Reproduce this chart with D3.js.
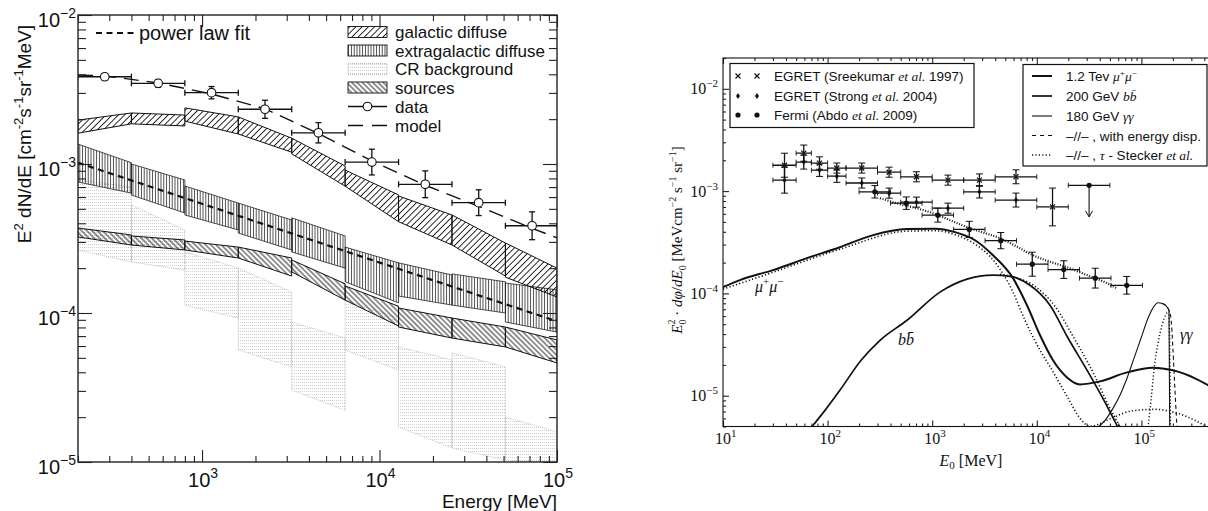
<!DOCTYPE html>
<html>
<head>
<meta charset="utf-8">
<script src="https://cdnjs.cloudflare.com/ajax/libs/d3/7.8.5/d3.min.js"></script>
<style>
  body { margin: 0; background: #fff; }
  svg { display: block; }
</style>
</head>
<body>
<svg id="chart" width="1208" height="511"></svg>
<script>
// ---------------- left panel data (E in MeV, E^2 dN/dE) ----------------
const binEdges = [200, 400, 800, 1600, 3200, 6400, 12800, 25600, 51200, 100000];
// rows: [upper at bin start, upper at bin end, lower at bin start, lower at bin end]
const galactic = [
  [1.97e-3, 2.20e-3, 1.61e-3, 1.86e-3],
  [2.20e-3, 2.13e-3, 1.86e-3, 1.80e-3],
  [2.38e-3, 2.07e-3, 1.94e-3, 1.59e-3],
  [2.07e-3, 1.49e-3, 1.59e-3, 1.20e-3],
  [1.49e-3, 9.7e-4, 1.17e-3, 7.1e-4],
  [9.1e-4, 6.2e-4, 7.1e-4, 4.1e-4],
  [6.1e-4, 4.55e-4, 4.1e-4, 2.86e-4],
  [4.55e-4, 2.95e-4, 2.86e-4, 1.77e-4],
  [2.95e-4, 2.0e-4, 1.74e-4, 1.28e-4]
];
const extragalactic = [
  [1.36e-3, 1.02e-3, 7.57e-4, 6.38e-4],
  [1.0e-3, 7.81e-4, 6.19e-4, 4.69e-4],
  [7.12e-4, 5.47e-4, 4.55e-4, 3.61e-4],
  [5.47e-4, 4.21e-4, 3.44e-4, 2.65e-4],
  [4.35e-4, 3.29e-4, 2.57e-4, 2.0e-4],
  [2.77e-4, 2.17e-4, 1.62e-4, 1.17e-4],
  [2.17e-4, 1.80e-4, 1.30e-4, 1.13e-4],
  [1.83e-4, 1.62e-4, 1.13e-4, 1.0e-4],
  [1.59e-4, 1.43e-4, 8.7e-5, 7.45e-5]
];
const crBackground = [
  [7.81e-4, 7.01e-4, 2.65e-4, 2.20e-4],
  [5.31e-4, 3.61e-4, 2.20e-4, 1.94e-4],
  [2.57e-4, 2.0e-4, 1.13e-4, 9.25e-5],
  [2.0e-4, 1.38e-4, 5.65e-5, 4.35e-5],
  [8.7e-5, 6.79e-5, 3.04e-5, 2.23e-5],
  [1.22e-4, 9.25e-5, 5.65e-5, 4.14e-5],
  [5.92e-5, 4.84e-5, 1.72e-5, 1.24e-5],
  [5.39e-5, 4.35e-5, 1.24e-5, 1.03e-5],
  [2.0e-5, 1.59e-5, 1.03e-5, 1.0e-5]
];
const sources = [
  [3.72e-4, 3.34e-4, 3.24e-4, 2.86e-4],
  [3.29e-4, 3.09e-4, 2.86e-4, 2.65e-4],
  [3.04e-4, 2.77e-4, 2.65e-4, 2.34e-4],
  [2.77e-4, 2.34e-4, 2.34e-4, 1.77e-4],
  [2.27e-4, 1.57e-4, 1.89e-4, 1.22e-4],
  [1.52e-4, 1.11e-4, 1.22e-4, 8.18e-5],
  [1.08e-4, 9.25e-5, 8.05e-5, 6.79e-5],
  [9.25e-5, 8.05e-5, 6.79e-5, 5.92e-5],
  [8.05e-5, 6.59e-5, 5.92e-5, 4.62e-5]
];
const dataE = [283, 566, 1131, 2263, 4525, 9051, 18102, 36204, 72408];
const dataF = [3.85e-3, 3.48e-3, 3.01e-3, 2.33e-3, 1.62e-3, 1.03e-3, 7.31e-4, 5.50e-4, 3.85e-4];
const dataErr = [0.05, 0.06, 0.1, 0.15, 0.17, 0.22, 0.23, 0.22, 0.24];
const modelE = [200, 283, 566, 1131, 2263, 4525, 9051, 18102, 36204, 72408, 100000];
const modelF = [3.95e-3, 3.9e-3, 3.5e-3, 2.95e-3, 2.35e-3, 1.6e-3, 1.05e-3, 7.2e-4, 5.2e-4, 3.7e-4, 3.2e-4];
const powerE = [200, 100000];
const powerF = [1.02e-3, 8.8e-5];
const leftLegend = ["galactic diffuse", "extragalactic diffuse", "CR background", "sources", "data", "model"];

// ---------------- right panel data (E0 in MeV, MeV cm^-2 s^-1 sr^-1) ----------------
const egretEdges = [30, 50, 70, 100, 150, 300, 500, 1000, 2000, 4000, 10000, 20000];
const sreekumarF = [1.79e-3, 2.35e-3, 1.88e-3, 1.68e-3, 1.68e-3, 1.53e-3, 1.38e-3, 1.28e-3, 1.28e-3, 1.38e-3, 7.0e-4];
const sreekumarErr = [0.31, 0.2, 0.15, 0.12, 0.12, 0.12, 0.12, 0.12, 0.15, 0.17, 0.53];
const upperLimitEdges = [20000, 50000];
const upperLimitF = [1.14e-3, 5.6e-4];
const strongF = [1.28e-3, 1.92e-3, 1.60e-3, 1.40e-3, 1.20e-3, 9.55e-4, 7.80e-4, 6.81e-4, 9.84e-4, 8.17e-4];
const strongErr = [0.34, 0.17, 0.15, 0.15, 0.12, 0.12, 0.12, 0.12, 0.15, 0.17];
const fermiEdges = [200, 400, 800, 1600, 3200, 6400, 12800, 25600, 51200, 102400];
const fermiF = [9.84e-4, 7.62e-4, 5.82e-4, 4.22e-4, 3.28e-4, 1.93e-4, 1.71e-4, 1.41e-4, 1.20e-4];
const fermiErr = [0.15, 0.15, 0.17, 0.2, 0.2, 0.31, 0.22, 0.25, 0.22];

const mumuE = [10, 14.5, 30.1, 63.5, 131, 272, 574, 1064, 1652, 2566, 3811, 5920, 8054, 10740, 14290, 19440, 25890, 40190, 72800, 129000, 200400, 325000, 473000];
const mumuF = [1.15e-4, 1.35e-4, 1.69e-4, 2.21e-4, 2.83e-4, 3.71e-4, 4.25e-4, 4.29e-4, 3.97e-4, 3.31e-4, 2.36e-4, 1.41e-4, 7.66e-5, 3.90e-5, 2.22e-5, 1.51e-5, 1.29e-5, 1.38e-5, 1.69e-5, 1.88e-5, 1.77e-5, 1.48e-5, 1.21e-5];
const mumuDotE = [10, 30.1, 131, 574, 1064, 1652, 2566, 3981, 5920, 7710, 10740, 13680, 19440, 25890, 32300, 51200, 77800, 131800, 214000, 325000, 433000];
const mumuDotF = [1.10e-4, 1.61e-4, 2.70e-4, 4.06e-4, 4.10e-4, 3.75e-4, 3.03e-4, 2.02e-4, 1.03e-4, 5.46e-5, 2.78e-5, 1.85e-5, 9.86e-6, 6.01e-6, 5.01e-6, 6.0e-6, 7.04e-6, 7.36e-6, 6.80e-6, 5.74e-6, 4.9e-6];
const bbE = [70, 94.4, 131, 209, 317, 574, 1186, 2151, 3811, 5546, 8610, 13376, 19440, 32300, 44900, 59700];
const bbF = [4.9e-6, 7.19e-6, 1.13e-5, 2.22e-5, 3.48e-5, 5.46e-5, 1.03e-4, 1.38e-4, 1.51e-4, 1.47e-4, 1.20e-4, 7.66e-5, 3.81e-5, 1.58e-5, 8.61e-6, 4.9e-6];
const bbDotE = [4449, 6194, 9616, 14930, 22180, 35970, 47900, 62400];
const bbDotF = [1.54e-4, 1.44e-4, 1.17e-4, 7.48e-5, 3.81e-5, 1.55e-5, 8.23e-6, 5.0e-6];
const ggE = [38460, 44900, 53500, 62400, 72800, 84900, 99100, 115600, 131800, 144100, 160700, 183500, 186500];
const ggF = [4.9e-6, 5.74e-6, 7.52e-6, 1.01e-5, 1.48e-5, 2.32e-5, 3.64e-5, 5.71e-5, 7.48e-5, 8.11e-5, 7.93e-5, 6.84e-5, 4.9e-6];
const ggDashE = [157400, 179600, 191800, 200400, 209400, 218800];
const ggDashF = [8.02e-5, 7.16e-5, 5.71e-5, 2.78e-5, 1.13e-5, 4.9e-6];
const ggDotE = [115600, 123600, 131800, 144100, 157400, 171800, 183500, 189800];
const ggDotF = [4.9e-6, 9.0e-6, 1.77e-5, 3.25e-5, 4.88e-5, 6.25e-5, 6.68e-5, 4.9e-6];
const sumDotE = [317, 492, 764, 1018, 1480, 2151, 3199, 4449, 6467, 9204, 13376, 19440, 30200, 46900, 58400];
const sumDotF = [8.53e-4, 7.45e-4, 6.66e-4, 6.08e-4, 5.20e-4, 4.44e-4, 3.88e-4, 3.47e-4, 2.86e-4, 2.36e-4, 2.04e-4, 1.80e-4, 1.51e-4, 1.26e-4, 1.12e-4];

const SANS = "'Liberation Sans', Arial, Helvetica, sans-serif";
const SERIF = "'Liberation Serif', 'DejaVu Serif', 'Times New Roman', serif";
const CR_GRAY = "#b0b0b0";

const svg = d3.select("#chart");
const defs = svg.append("defs");

// hatch patterns
function hatch(id, angle, spacing, color, width) {
  const p = defs.append("pattern").attr("id", id)
    .attr("patternUnits", "userSpaceOnUse")
    .attr("width", spacing).attr("height", spacing)
    .attr("patternTransform", "rotate(" + angle + ")");
  p.append("line").attr("x1", spacing / 2).attr("x2", spacing / 2)
    .attr("y1", -1).attr("y2", spacing + 1)
    .attr("stroke", color).attr("stroke-width", width);
}
hatch("galHatch", 45, 4.4, "#111", 0.9);
hatch("srcHatch", -45, 3.7, "#111", 0.9);
hatch("egHatch", 0, 2.8, "#333", 0.85);
const crp = defs.append("pattern").attr("id", "crHatch")
  .attr("patternUnits", "userSpaceOnUse").attr("width", 2).attr("height", 3);
crp.append("rect").attr("x", 0).attr("y", 1).attr("width", 0.9).attr("height", 0.7).attr("fill", CR_GRAY);

// ---------------- left panel ----------------
const L = { left: 78, right: 557, top: 15, bottom: 462 };
const x1 = d3.scaleLog().domain([200, 1e5]).range([L.left, L.right]);
const y1 = d3.scaleLog().domain([1e-5, 1e-2]).range([L.bottom, L.top]);
const line1 = d3.line().x(d => x1(d[0])).y(d => y1(d[1]));

defs.append("clipPath").attr("id", "clipL").append("rect")
  .attr("x", L.left).attr("y", L.top).attr("width", L.right - L.left).attr("height", L.bottom - L.top);

const gl = svg.append("g").attr("font-family", SANS);
const plotL = gl.append("g").attr("clip-path", "url(#clipL)");

function band(rows, fill, stroke, width, dash) {
  plotL.append("g").selectAll("path").data(rows).join("path")
    .attr("d", (r, i) => line1([[binEdges[i], r[0]], [binEdges[i + 1], r[1]],
                                 [binEdges[i + 1], r[3]], [binEdges[i], r[2]]]) + "Z")
    .attr("fill", fill).attr("stroke", stroke)
    .attr("stroke-width", width).attr("stroke-dasharray", dash || null);
}
band(crBackground, "url(#crHatch)", CR_GRAY, 0.8, "1,1");
band(extragalactic, "url(#egHatch)", "#222", 0.8);
band(sources, "url(#srcHatch)", "#111", 1);
band(galactic, "url(#galHatch)", "#111", 1);

plotL.append("path").attr("d", line1(powerE.map((e, i) => [e, powerF[i]])))
  .attr("fill", "none").attr("stroke", "#111").attr("stroke-width", 2.2).attr("stroke-dasharray", "6,4.5");
plotL.append("path").attr("d", line1(modelE.map((e, i) => [e, modelF[i]])))
  .attr("fill", "none").attr("stroke", "#111").attr("stroke-width", 1.4).attr("stroke-dasharray", "15,8");

// data points with error bars
const dataG = plotL.append("g").attr("stroke", "#111").attr("stroke-width", 1.3);
dataF.forEach((f, i) => {
  const cx = x1(dataE[i]), cy = y1(f);
  const xa = x1(binEdges[i]), xb = x1(binEdges[i + 1]);
  const ya = y1(f * (1 + dataErr[i])), yb = y1(f / (1 + dataErr[i]));
  dataG.append("line").attr("x1", xa).attr("x2", xb).attr("y1", cy).attr("y2", cy);
  dataG.append("line").attr("x1", xa).attr("x2", xa).attr("y1", cy - 3).attr("y2", cy + 3);
  dataG.append("line").attr("x1", xb).attr("x2", xb).attr("y1", cy - 3).attr("y2", cy + 3);
  dataG.append("line").attr("x1", cx).attr("x2", cx).attr("y1", ya).attr("y2", yb);
  dataG.append("line").attr("x1", cx - 3).attr("x2", cx + 3).attr("y1", ya).attr("y2", ya);
  dataG.append("line").attr("x1", cx - 3).attr("x2", cx + 3).attr("y1", yb).attr("y2", yb);
  dataG.append("circle").attr("cx", cx).attr("cy", cy).attr("r", 4.3).attr("fill", "#fff").attr("stroke-width", 1.1);
});

// ticks on all four sides
function ticks(g, scale, orient, pos, values, len) {
  const ax = orient(scale).tickValues(values).tickSizeInner(-len).tickSizeOuter(0).tickFormat("");
  const a = g.append("g").attr("transform", pos).attr("color", "#222").call(ax);
  a.select(".domain").remove();
  a.selectAll("line").attr("stroke-width", 1.1);
}
const isMajor = v => Math.abs(Math.log10(v) - Math.round(Math.log10(v))) < 1e-6;
const xT1 = x1.ticks(), yT1 = y1.ticks();
ticks(gl, x1, d3.axisBottom, `translate(0,${L.bottom})`, xT1.filter(v => !isMajor(v)), 6);
ticks(gl, x1, d3.axisBottom, `translate(0,${L.bottom})`, xT1.filter(isMajor), 12);
ticks(gl, x1, d3.axisTop, `translate(0,${L.top})`, xT1.filter(v => !isMajor(v)), 6);
ticks(gl, x1, d3.axisTop, `translate(0,${L.top})`, xT1.filter(isMajor), 12);
ticks(gl, y1, d3.axisLeft, `translate(${L.left},0)`, yT1.filter(v => !isMajor(v)), 8);
ticks(gl, y1, d3.axisLeft, `translate(${L.left},0)`, yT1.filter(isMajor), 14);
ticks(gl, y1, d3.axisRight, `translate(${L.right},0)`, yT1.filter(v => !isMajor(v)), 8);
ticks(gl, y1, d3.axisRight, `translate(${L.right},0)`, yT1.filter(isMajor), 14);
gl.append("rect").attr("x", L.left).attr("y", L.top).attr("width", L.right - L.left).attr("height", L.bottom - L.top)
  .attr("fill", "none").attr("stroke", "#222").attr("stroke-width", 1.4);

function powLabel(g, x, y, exp, anchor, size, supSize, supDy, font) {
  const t = g.append("text").attr("x", x).attr("y", y).attr("text-anchor", anchor)
    .attr("font-size", size).attr("font-family", font).attr("fill", "#111");
  t.append("tspan").text("10");
  t.append("tspan").attr("font-size", supSize).attr("dy", -supDy).text(exp < 0 ? "\u2212" + (-exp) : String(exp));
  return t;
}
yT1.filter(isMajor).forEach(v => powLabel(gl, 76, y1(v) + 12, Math.round(Math.log10(v)), "end", 20, 14, 9, SANS));
xT1.filter(isMajor).forEach(v => powLabel(gl, x1(v) + 1, 487, Math.round(Math.log10(v)), "middle", 20, 14, 9, SANS));

gl.append("text").attr("x", L.right).attr("y", 508).attr("text-anchor", "end")
  .attr("font-size", 19).attr("fill", "#111").text("Energy [MeV]");

function richText(g, parts) {
  parts.forEach(p => {
    const s = g.append("tspan").text(p[0]);
    const o = p[1] || {};
    if (o.size) s.attr("font-size", o.size);
    if (o.dy) s.attr("dy", o.dy);
    if (o.dx) s.attr("dx", o.dx);
    if (o.italic) s.attr("font-style", "italic");
    if (o.font) s.attr("font-family", o.font);
  });
}
const ylab1 = gl.append("text").attr("transform", "translate(31,134) rotate(-90)")
  .attr("text-anchor", "middle").attr("font-size", 19).attr("fill", "#111");
richText(ylab1, [["E"], ["2", { size: 13, dy: -8 }], [" dN/dE [cm", { dy: 8 }], ["-2", { size: 13, dy: -8 }],
  ["s", { dy: 8 }], ["-1", { size: 13, dy: -8 }], ["sr", { dy: 8 }], ["-1", { size: 13, dy: -8 }], ["MeV]", { dy: 8 }]]);

// left legends
gl.append("line").attr("x1", 96).attr("x2", 134).attr("y1", 33).attr("y2", 33)
  .attr("stroke", "#111").attr("stroke-width", 2.2).attr("stroke-dasharray", "6,4.5");
gl.append("text").attr("x", 139).attr("y", 40).attr("font-size", 20).attr("fill", "#111").text("power law fit");

const legFills = ["url(#galHatch)", "url(#egHatch)", "url(#crHatch)", "url(#srcHatch)"];
const legRows = [32, 50.5, 69, 87.5, 106.5, 125.5];
leftLegend.forEach((name, i) => {
  const cy = legRows[i];
  if (i < 4) {
    gl.append("rect").attr("x", 348).attr("y", cy - 5.5).attr("width", 39).attr("height", 11)
      .attr("fill", legFills[i]).attr("stroke", i === 2 ? CR_GRAY : "#111")
      .attr("stroke-width", 0.9).attr("stroke-dasharray", i === 2 ? "1,1" : null);
  } else if (i === 4) {
    gl.append("line").attr("x1", 348).attr("x2", 387).attr("y1", cy).attr("y2", cy).attr("stroke", "#111").attr("stroke-width", 1.3);
    gl.append("circle").attr("cx", 367.5).attr("cy", cy).attr("r", 4.3).attr("fill", "#fff").attr("stroke", "#111").attr("stroke-width", 1.1);
  } else {
    gl.append("line").attr("x1", 348).attr("x2", 387).attr("y1", cy).attr("y2", cy).attr("stroke", "#111")
      .attr("stroke-width", 1.4).attr("stroke-dasharray", "15,9");
  }
  gl.append("text").attr("x", 395).attr("y", cy + 6).attr("font-size", 17).attr("fill", "#111").text(name);
});

// ---------------- right panel ----------------
const R = { left: 723, right: 723 + 4.65 * 104.6, top: 58, bottom: 426.5 };
const x2 = d3.scaleLog().domain([10, Math.pow(10, 5.65)]).range([R.left, R.right]);
const y2 = d3.scaleLog().domain([5e-6, 2e-2]).range([R.bottom, R.top]);
const line2 = d3.line().x(d => x2(d[0])).y(d => y2(d[1])).curve(d3.curveMonotoneX);

defs.append("clipPath").attr("id", "clipR").append("rect")
  .attr("x", R.left).attr("y", R.top).attr("width", R.right - R.left).attr("height", R.bottom - R.top);

const gr = svg.append("g").attr("font-family", SERIF);
const plotR = gr.append("g").attr("clip-path", "url(#clipR)");

function curve(E, F, width, dash) {
  plotR.append("path").attr("d", line2(E.map((e, i) => [e, F[i]])))
    .attr("fill", "none").attr("stroke", "#111").attr("stroke-width", width)
    .attr("stroke-dasharray", dash || null).attr("stroke-linejoin", "round");
}
curve(sumDotE, sumDotF, 2.2, "1,1.6");
curve(mumuDotE, mumuDotF, 1.6, "1.2,2.2");
curve(bbDotE, bbDotF, 1.6, "1.2,2.2");
curve(ggDotE, ggDotF, 1.4, "1.2,2.2");
curve(mumuE, mumuF, 2);
curve(bbE, bbF, 1.7);
curve(ggE, ggF, 1.1);
curve(ggDashE, ggDashF, 1.1, "4,3");

// data sets
const ptsG = plotR.append("g").attr("stroke", "#111").attr("stroke-width", 1.3);
function errPoints(edges, F, err, marker) {
  F.forEach((f, i) => {
    const e0 = edges[i], e1 = edges[i + 1];
    const cx = x2(Math.sqrt(e0 * e1)), cy = y2(f);
    const xa = x2(e0), xb = x2(e1);
    const ya = y2(f * (1 + err[i])), yb = y2(f / (1 + err[i]));
    ptsG.append("line").attr("x1", xa).attr("x2", xb).attr("y1", cy).attr("y2", cy);
    ptsG.append("line").attr("x1", xa).attr("x2", xa).attr("y1", cy - 2.5).attr("y2", cy + 2.5).attr("stroke-width", 0.9);
    ptsG.append("line").attr("x1", xb).attr("x2", xb).attr("y1", cy - 2.5).attr("y2", cy + 2.5).attr("stroke-width", 0.9);
    ptsG.append("line").attr("x1", cx).attr("x2", cx).attr("y1", ya).attr("y2", yb);
    ptsG.append("line").attr("x1", cx - 3.5).attr("x2", cx + 3.5).attr("y1", ya).attr("y2", ya).attr("stroke-width", 1);
    ptsG.append("line").attr("x1", cx - 3.5).attr("x2", cx + 3.5).attr("y1", yb).attr("y2", yb).attr("stroke-width", 1);
    marker(ptsG, cx, cy);
  });
}
const crossM = (g, x, y) => g.append("path").attr("d", `M${x - 2.5},${y - 2.5}L${x + 2.5},${y + 2.5}M${x - 2.5},${y + 2.5}L${x + 2.5},${y - 2.5}`).attr("stroke-width", 1.2);
const diamondM = (g, x, y) => g.append("path").attr("d", `M${x},${y - 3}L${x + 2},${y}L${x},${y + 3}L${x - 2},${y}Z`).attr("fill", "#111").attr("stroke", "none");
const dotM = (g, x, y) => g.append("circle").attr("cx", x).attr("cy", y).attr("r", 2.6).attr("fill", "#111").attr("stroke", "none");
errPoints(egretEdges, sreekumarF, sreekumarErr, crossM);
errPoints(egretEdges, strongF, strongErr, diamondM);
errPoints(fermiEdges, fermiF, fermiErr, dotM);

// upper limit
{
  const xa = x2(upperLimitEdges[0]), xb = x2(upperLimitEdges[1]);
  const cx = x2(Math.sqrt(upperLimitEdges[0] * upperLimitEdges[1]));
  const cy = y2(upperLimitF[0]), ye = y2(upperLimitF[1]);
  ptsG.append("line").attr("x1", xa).attr("x2", xb).attr("y1", cy).attr("y2", cy);
  ptsG.append("line").attr("x1", xa).attr("x2", xa).attr("y1", cy - 2.5).attr("y2", cy + 2.5).attr("stroke-width", 0.9);
  ptsG.append("line").attr("x1", xb).attr("x2", xb).attr("y1", cy - 2.5).attr("y2", cy + 2.5).attr("stroke-width", 0.9);
  ptsG.append("line").attr("x1", cx).attr("x2", cx).attr("y1", cy).attr("y2", ye).attr("stroke-width", 1.1);
  ptsG.append("path").attr("d", `M${cx - 3.5},${ye - 6}L${cx},${ye}L${cx + 3.5},${ye - 6}`).attr("fill", "none").attr("stroke-width", 1);
  dotM(ptsG, cx, cy);
}

// right ticks
const xT2 = x2.ticks(), yT2 = y2.ticks();
ticks(gr, x2, d3.axisBottom, `translate(0,${R.bottom})`, xT2.filter(v => !isMajor(v)), 3);
ticks(gr, x2, d3.axisBottom, `translate(0,${R.bottom})`, xT2.filter(isMajor), 6);
ticks(gr, x2, d3.axisTop, `translate(0,${R.top})`, xT2.filter(v => !isMajor(v)), 3);
ticks(gr, x2, d3.axisTop, `translate(0,${R.top})`, xT2.filter(isMajor), 6);
ticks(gr, y2, d3.axisLeft, `translate(${R.left},0)`, yT2.filter(v => !isMajor(v)), 3);
ticks(gr, y2, d3.axisLeft, `translate(${R.left},0)`, yT2.filter(isMajor), 6);
gr.append("rect").attr("x", R.left).attr("y", R.top).attr("width", R.right - R.left).attr("height", R.bottom - R.top)
  .attr("fill", "none").attr("stroke", "#111").attr("stroke-width", 1.1);

yT2.filter(isMajor).forEach(v => powLabel(gr, 718, y2(v) + 5.5, Math.round(Math.log10(v)), "end", 16, 11, 7, SERIF));
xT2.filter(v => isMajor(v) && x2(v) < 1200).forEach(v => powLabel(gr, x2(v) - 8, 444, Math.round(Math.log10(v)), "start", 16, 11, 7, SERIF));

const xlab2 = gr.append("text").attr("x", 971).attr("y", 466).attr("text-anchor", "middle").attr("font-size", 16).attr("fill", "#111");
richText(xlab2, [["E", { italic: true }], ["0", { size: 11, dy: 3 }], [" [MeV]", { dy: -3 }]]);

const ylab2 = gr.append("text").attr("transform", "translate(682,240) rotate(-90)")
  .attr("text-anchor", "middle").attr("font-size", 15).attr("fill", "#111");
richText(ylab2, [["E", { italic: true }], ["0", { size: 10, dy: 4 }], ["2", { size: 10, dx: -5, dy: -11 }],
  [" \u00b7 ", { dy: 7 }], ["d\u03c6", { italic: true }], ["/"], ["dE", { italic: true }], ["0", { size: 10, dy: 4 }],
  [" [MeVcm", { dy: -4 }], ["\u22122", { size: 10, dy: -6 }], [" s", { dy: 6 }], ["\u22121", { size: 10, dy: -6 }],
  [" sr", { dy: 6 }], ["\u22121", { size: 10, dy: -6 }], ["]", { dy: 6 }]]);

// curve labels
const mlab = gr.append("text").attr("x", 755).attr("y", 292).attr("font-size", 16).attr("fill", "#111");
richText(mlab, [["\u03bc", { italic: true }], ["+", { size: 11, dy: -7 }], ["\u03bc", { italic: true, dy: 7 }], ["\u2212", { size: 11, dy: -7 }]]);
gr.append("text").attr("x", 898).attr("y", 345).attr("font-size", 16).attr("font-style", "italic").attr("fill", "#111").text("bb\u0304");
gr.append("text").attr("x", 1180).attr("y", 340).attr("font-size", 16).attr("font-style", "italic").attr("fill", "#111").text("\u03b3\u03b3");

// right legend 1
const lg1 = gr.append("g");
lg1.append("rect").attr("x", 730).attr("y", 63.5).attr("width", 244).attr("height", 64)
  .attr("fill", "#fff").attr("stroke", "#111").attr("stroke-width", 1.2);
const leg1Rows = [
  { y: 76, m: crossM, parts: [["EGRET (Sreekumar "], ["et al.", { italic: true, font: SERIF }], [" 1997)"]] },
  { y: 96, m: diamondM, parts: [["EGRET (Strong "], ["et al.", { italic: true, font: SERIF }], [" 2004)"]] },
  { y: 115, m: dotM, parts: [["Fermi (Abdo "], ["et al.", { italic: true, font: SERIF }], [" 2009)"]] }
];
const lgM = lg1.append("g").attr("stroke", "#111");
leg1Rows.forEach(r => {
  r.m(lgM, 738, r.y); r.m(lgM, 757, r.y);
  const t = lg1.append("text").attr("x", 774).attr("y", r.y + 5).attr("font-size", 13.5)
    .attr("font-family", SANS).attr("fill", "#111");
  richText(t, r.parts);
});

// right legend 2
const lg2 = gr.append("g");
lg2.append("rect").attr("x", 1023).attr("y", 64.5).attr("width", 184).attr("height", 101.5)
  .attr("fill", "#fff").attr("stroke", "#111").attr("stroke-width", 1.2);
const leg2Rows = [
  { y: 76, w: 2, d: null, parts: [["1.2 Tev "], ["\u03bc", { italic: true, font: SERIF }], ["+", { size: 9, dy: -5, font: SERIF }], ["\u03bc", { italic: true, font: SERIF, dy: 5 }], ["\u2212", { size: 9, dy: -5, font: SERIF }]] },
  { y: 96, w: 1.7, d: null, parts: [["200 GeV "], ["bb\u0304", { italic: true, font: SERIF }]] },
  { y: 116, w: 1.1, d: null, parts: [["180 GeV "], ["\u03b3\u03b3", { italic: true, font: SERIF }]] },
  { y: 135.5, w: 1.1, d: "4,4", parts: [["\u2013//\u2013 , with energy disp."]] },
  { y: 155, w: 1.4, d: "1.2,2.2", parts: [["\u2013//\u2013 , "], ["\u03c4", { italic: true, font: SERIF }], [" - Stecker "], ["et al.", { italic: true, font: SERIF }]] }
];
leg2Rows.forEach(r => {
  lg2.append("line").attr("x1", 1032).attr("x2", 1052).attr("y1", r.y).attr("y2", r.y)
    .attr("stroke", "#111").attr("stroke-width", r.w).attr("stroke-dasharray", r.d);
  const t = lg2.append("text").attr("x", 1066).attr("y", r.y + 5).attr("font-size", 13.5)
    .attr("font-family", SANS).attr("fill", "#111");
  richText(t, r.parts);
});
</script>
</body>
</html>
